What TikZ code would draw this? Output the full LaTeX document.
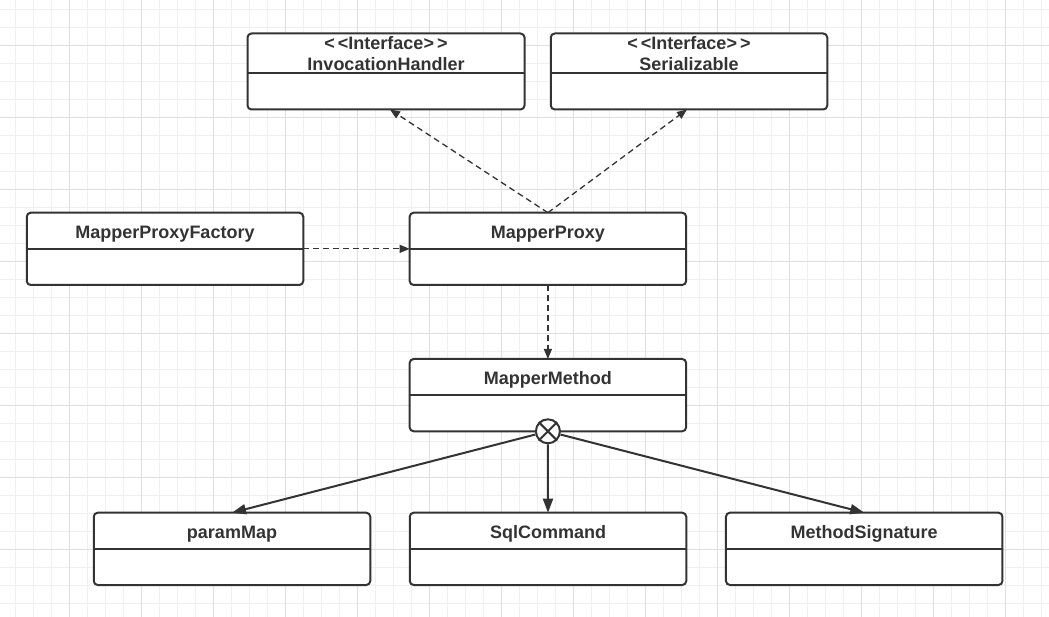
\documentclass[tikz,border=0pt]{standalone}
\usepackage{fontspec}
\setmainfont{Liberation Sans}
\usetikzlibrary{arrows.meta,calc}
\definecolor{ink}{HTML}{333333}
\definecolor{gridminor}{HTML}{F0F0F0}
\definecolor{gridmajor}{HTML}{E0E0E0}
\begin{document}
\begin{tikzpicture}[x=1pt,y=-1pt,
  umlbox/.style={draw=ink, line width=2pt, rounded corners=4pt, fill=white,
    minimum width=276.5pt, minimum height=72.3pt, inner sep=0pt, outer sep=0pt},
  title/.style={text=ink, font=\bfseries\fontsize{18}{20.5}\selectfont, inner sep=0pt, anchor=base},
  divline/.style={draw=ink, line width=2pt},
  dep/.style={draw=ink, line width=1.3pt, dash pattern=on 6pt off 4pt,
    -{Triangle[length=10pt,width=8pt]}},
  comp/.style={draw=ink, line width=2pt, -{Triangle[length=14pt,width=10pt]}},
  gminor/.style={draw=gridminor, line width=1pt},
  gmajor/.style={draw=gridmajor, line width=1pt}]
\useasboundingbox (0,0) rectangle (1049,617);
\fill[white] (0,0) rectangle (1049,617);
% grid
\foreach \i in {0,...,58} {\draw[gminor] ({-2.3+18*\i},0) -- ({-2.3+18*\i},617);}
\foreach \i in {0,...,34} {\draw[gminor] (0,{9.3+18*\i}) -- (1049,{9.3+18*\i});}
\foreach \i in {0,...,15} {\draw[gmajor] ({-2.3+72*\i},0) -- ({-2.3+72*\i},617);}
\foreach \i in {0,...,7} {\draw[gmajor] (0,{45.3+72*\i}) -- (1049,{45.3+72*\i});}

% boxes
\node[umlbox, minimum height=76pt, minimum width=277pt] (ih) at (386,71.5) {};
\node[umlbox, minimum height=76pt] (ser) at (689,71.5) {};
\node[umlbox] (mpf) at (165,248.85) {};
\node[umlbox] (mp) at (547.9,248.85) {};
\node[umlbox] (mm) at (547.9,395.15) {};
\node[umlbox] (pm) at (232,548.85) {};
\node[umlbox] (sc) at (548,548.85) {};
\node[umlbox] (ms) at (864.2,548.85) {};

% dividers
\draw[divline] ([yshift=-39.8pt]ih.north west) -- ([yshift=-39.8pt]ih.north east);
\draw[divline] ([yshift=-39.8pt]ser.north west) -- ([yshift=-39.8pt]ser.north east);
\foreach \b in {mpf,mp,mm,pm,sc,ms}
  {\draw[divline] ([yshift=-36.2pt]\b.north west) -- ([yshift=-36.2pt]\b.north east);}

% titles
\node[title] (ihA) at ($(ih.north)+(0,16)$) {<\kern3pt<Interface>\kern3pt>};
\node[title] (ihB) at ($(ih.north)+(0,37)$) {InvocationHandler};
\node[title] (serA) at ($(ser.north)+(0,16)$) {<\kern3pt<Interface>\kern3pt>};
\node[title] (serB) at ($(ser.north)+(0,37)$) {Serializable};
\node[title] (mpfT) at ($(mpf.north)+(0,25.5)$) {MapperProxyFactory};
\node[title] (mpT) at ($(mp.north)+(0,25.5)$) {MapperProxy};
\node[title] (mmT) at ($(mm.north)+(0,25.5)$) {MapperMethod};
\node[title] (pmT) at ($(pm.north)+(0,25.5)$) {paramMap};
\node[title] (scT) at ($(sc.north)+(0,25.5)$) {SqlCommand};
\node[title] (msT) at ($(ms.north)+(0,25.5)$) {MethodSignature};

% dependencies
\draw[dep] (mp.north) -- ([xshift=4pt]ih.south);
\draw[dep] (mp.north) -- ([xshift=-2pt]ser.south);
\draw[dep] (mpf.east) -- (mp.west);
\draw[dep] (mp.south) -- (mm.north);

% composition
\node[circle, draw=ink, line width=2pt, fill=white, minimum size=24pt, inner sep=0pt] (cx) at (mm.south) {};
\draw[ink, line width=2pt] (cx.north west) -- (cx.south east);
\draw[ink, line width=2pt] (cx.north east) -- (cx.south west);
\draw[comp] (cx) -- (pm.north);
\draw[comp] (cx) -- (sc.north);
\draw[comp] (cx) -- (ms.north);
\end{tikzpicture}
\end{document}
